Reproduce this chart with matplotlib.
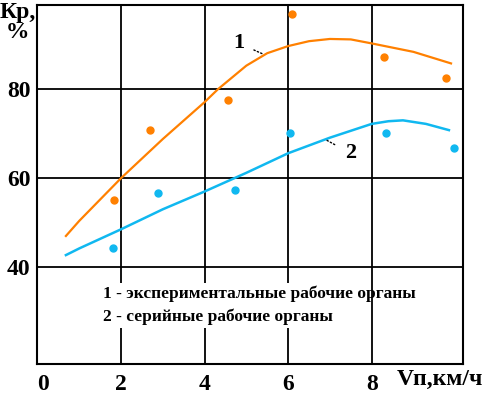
import matplotlib
matplotlib.use("Agg")
import matplotlib.pyplot as plt
import matplotlib.transforms as mtransforms
from matplotlib.patches import Rectangle

# fitted curves
curve1_x = [0.68, 1.0, 1.5, 2.0, 3.0, 4.0, 4.32, 5.0, 5.5, 6.0, 6.5, 7.0, 7.5, 8.0, 9.0, 9.9]
curve1_y = [47.0, 50.4, 55.2, 60.0, 68.8, 77.1, 80.0, 85.3, 88.1, 89.7, 90.8, 91.3, 91.2, 90.3, 88.4, 85.8]
curve2_x = [0.68, 1.0, 2.0, 3.0, 4.0, 5.0, 6.0, 7.0, 8.0, 8.4, 8.75, 9.3, 9.85]
curve2_y = [42.7, 44.2, 48.5, 53.0, 57.0, 61.2, 65.6, 69.1, 72.2, 72.8, 73.0, 72.2, 70.8]

# measured points
pts1_x = [1.83, 2.70, 4.56, 6.10, 8.30, 9.78]
pts1_y = [55.1, 70.8, 77.5, 96.9, 87.2, 82.5]
pts2_x = [1.81, 2.88, 4.74, 6.05, 8.35, 9.98]
pts2_y = [44.3, 56.6, 57.3, 70.1, 70.1, 66.7]

xticks = [0, 2, 4, 6, 8]
yticks = [40, 60, 80]

orange = "#FF8000"
blue = "#10B8F0"
font = ["Liberation Serif", "DejaVu Serif"]

fig = plt.figure(figsize=(4.87, 3.97), dpi=100)
ax = fig.add_axes([0.077, 0.083, 0.874, 0.904])

ax.set_xlim(0, 10.19)
ax.set_ylim(18.2, 98.9)
ax.set_xticks(xticks)
ax.set_yticks(yticks)
ax.grid(True, color="black", lw=1.3, zorder=1)
for s in ax.spines.values():
    s.set_linewidth(1.5)
ax.tick_params(length=0, labelsize=17)
ax.tick_params(axis="x", pad=7)
ax.tick_params(axis="y", pad=5)
for lab in ax.get_xticklabels() + ax.get_yticklabels():
    lab.set_family(font)
    lab.set_fontweight("bold")
# the "0" sits a bit right of the axis
lab0 = ax.get_xticklabels()[0]
lab0.set_transform(lab0.get_transform() + mtransforms.ScaledTranslation(6 / 100, 0, fig.dpi_scale_trans))

ax.plot(curve1_x, curve1_y, color=orange, lw=1.6, zorder=3)
ax.plot(curve2_x, curve2_y, color=blue, lw=1.8, zorder=3)
ax.plot(pts1_x, pts1_y, "o", color=orange, ms=5, zorder=4)
ax.plot(pts2_x, pts2_y, "o", color=blue, ms=5, zorder=4)

ax.annotate("1", xy=(5.40, 87.9), xytext=(4.83, 90.3), ha="center", va="center",
            family=font, fontweight="bold", fontsize=16,
            arrowprops=dict(arrowstyle="-", ls=":", lw=1, color="black", shrinkA=5, shrinkB=0))
ax.annotate("2", xy=(6.93, 68.5), xytext=(7.49, 65.6), ha="center", va="center",
            family=font, fontweight="bold", fontsize=16,
            arrowprops=dict(arrowstyle="-", ls=":", lw=1, color="black", shrinkA=6, shrinkB=0))

# white backing behind the legend text
ax.add_patch(Rectangle((0.147, 0.100), 0.576, 0.126, transform=ax.transAxes,
                       facecolor="white", edgecolor="none", zorder=2))
ax.text(0.155, 0.195, "1 - экспериментальные рабочие органы", transform=ax.transAxes,
        family=font, fontweight="bold", fontsize=12.5, va="center", zorder=5)
ax.text(0.155, 0.133, "2 - серийные рабочие органы", transform=ax.transAxes,
        family=font, fontweight="bold", fontsize=12.5, va="center", zorder=5)

fig.text(0.0, 0.995, "Кр,\n %", family=font, fontweight="bold", fontsize=17,
         va="top", ha="left", linespacing=0.95)
fig.text(0.993, 0.043, "Vп,км/ч", family=font, fontweight="bold", fontsize=17,
         va="center", ha="right")

fig.savefig("out.png", dpi=100)
